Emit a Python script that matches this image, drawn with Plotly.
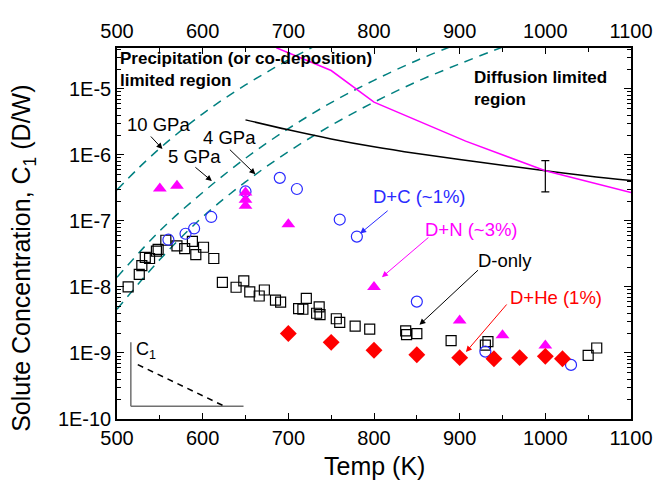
import numpy as np
import plotly.graph_objects as go

# ---------------- data ----------------
# D-only (open black squares)
donly_T = [513, 526, 529, 533, 538, 546, 548, 557, 570, 579, 588, 592, 601, 613, 623, 639, 648, 655, 666, 672,
           685, 691, 712, 717, 721, 733, 736, 737, 756, 760, 778, 795, 837, 838, 850, 890, 930, 933, 1050, 1060]
donly_C = [1.0e-8, 1.55e-8, 2.1e-8, 2.8e-8, 2.7e-8, 3.5e-8, 3.7e-8, 5.1e-8, 4.2e-8, 3.8e-8, 4.9e-8, 3.1e-8, 4.0e-8, 2.7e-8,
           1.17e-8, 9.9e-9, 1.24e-8, 8.4e-9, 7.3e-9, 9.0e-9, 6.3e-9, 5.9e-9, 4.7e-9, 4.6e-9, 6.7e-9, 4.0e-9, 5.0e-9, 3.8e-9,
           3.3e-9, 2.9e-9, 2.55e-9, 2.3e-9, 2.16e-9, 1.9e-9, 1.97e-9, 1.54e-9, 1.32e-9, 1.49e-9, 9.2e-10, 1.19e-9]

# D+C (~1%) open blue circles
dc_T = [560, 580, 590, 610, 650, 690, 710, 760, 780, 850, 930, 1030]
dc_C = [5.2e-8, 6.4e-8, 7.7e-8, 1.15e-7, 2.8e-7, 4.5e-7, 3.05e-7, 1.05e-7, 5.8e-8, 6.0e-9, 1.05e-9, 6.6e-10]

# D+N (~3%) magenta triangles
dn_T = [550, 570, 650, 650, 650, 700, 800, 900, 950, 1000]
dn_C = [3.1e-7, 3.4e-7, 2.7e-7, 2.1e-7, 1.7e-7, 8.9e-8, 1.0e-8, 3.1e-9, 1.86e-9, 1.3e-9]

# D+He (1%) red diamonds
dhe_T = [700, 750, 800, 850, 900, 940, 970, 1000, 1020]
dhe_C = [1.97e-9, 1.45e-9, 1.1e-9, 9.4e-10, 8.5e-10, 8.2e-10, 8.5e-10, 8.9e-10, 8.2e-10]

# Diffusion-limited curves
diffD_T = [650, 700, 750, 800, 850, 900, 950, 1000, 1050, 1100]
diffD_C = [3.4e-6, 2.4e-6, 1.75e-6, 1.33e-6, 1.05e-6, 8.5e-7, 7.0e-7, 5.75e-7, 4.8e-7, 4.1e-7]

diffN_T = [686, 750, 800, 907, 1000, 1100]
diffN_C = [4.2e-5, 1.9e-5, 6.3e-6, 1.62e-6, 5.75e-7, 2.7e-7]

# Precipitation limits (dashed teal)
p10_T = [500, 525, 550, 575, 600, 625, 650, 675, 700, 730]
p10_C = [2.95e-7, 6.3e-7, 1.26e-6, 2.35e-6, 4.2e-6, 7.1e-6, 1.15e-5, 1.8e-5, 2.75e-5, 4.4e-5]
p5_T = [500, 550, 600, 650, 700, 750, 800, 850, 890]
p5_C = [1.4e-8, 7.1e-8, 2.7e-7, 8.9e-7, 2.5e-6, 6.2e-6, 1.35e-5, 2.7e-5, 4.4e-5]
p4_T = [500, 550, 600, 650, 700, 750, 800, 850, 900, 950]
p4_C = [4.6e-9, 2.6e-8, 1.15e-7, 3.9e-7, 1.12e-6, 2.8e-6, 6.3e-6, 1.29e-5, 2.4e-5, 4.3e-5]

# error bar at 1000 K
err_T = [1000]
err_C = [5.75e-7]
err_plus = [2.45e-7]
err_minus = [3.0e-7]

x_ticks = [500, 600, 700, 800, 900, 1000, 1100]
y_ticks = [1e-10, 1e-9, 1e-8, 1e-7, 1e-6, 1e-5]
y_ticktext = ["1E-10", "1E-9", "1E-8", "1E-7", "1E-6", "1E-5"]

# ---------------- figure ----------------
FONT = "Arial, Liberation Sans, sans-serif"
TEAL = "#008080"
MAG = "#ff00ff"
BLUE = "#2a2aff"
RED = "#ff0000"

fig = go.Figure()

dash_style = "9px,7px"
for T, C in [(p10_T, p10_C), (p5_T, p5_C), (p4_T, p4_C)]:
    fig.add_trace(go.Scatter(x=T, y=C, mode="lines", line=dict(color=TEAL, width=1.5, dash=dash_style),
                             line_shape="spline", hoverinfo="skip"))

fig.add_trace(go.Scatter(x=diffD_T, y=diffD_C, mode="lines", line=dict(color="black", width=1.5), line_shape="spline"))
fig.add_trace(go.Scatter(x=diffN_T, y=diffN_C, mode="lines", line=dict(color=MAG, width=1.5)))

fig.add_trace(go.Scatter(x=err_T, y=err_C, mode="markers", marker=dict(size=1, color="rgba(0,0,0,0)"),
                         error_y=dict(type="data", symmetric=False, array=err_plus, arrayminus=err_minus,
                                      color="black", thickness=1.2, width=4)))

fig.add_trace(go.Scatter(x=donly_T, y=donly_C, mode="markers",
                         marker=dict(symbol="square-open", size=10, color="black", line=dict(width=1.2))))
fig.add_trace(go.Scatter(x=dc_T, y=dc_C, mode="markers",
                         marker=dict(symbol="circle-open", size=11, color=BLUE, line=dict(width=1.2))))
fig.add_trace(go.Scatter(x=dn_T, y=dn_C, mode="markers",
                         marker=dict(symbol="triangle-up", size=12, color=MAG)))
fig.add_trace(go.Scatter(x=dhe_T, y=dhe_C, mode="markers",
                         marker=dict(symbol="diamond", size=13, color=RED)))

# invisible trace to activate top axis
fig.add_trace(go.Scatter(x=[x_ticks[0], x_ticks[-1]], y=[y_ticks[0], y_ticks[0]], xaxis="x2", mode="markers",
                         marker=dict(size=1, color="rgba(0,0,0,0)"), hoverinfo="skip"))

# ----- page geometry (the html body adds an 8px margin) -----
OFF = 8
W, H = 665 - OFF, 490 - OFF
L, R, T0, B0 = 117, 637, 37, 419      # plot frame in page pixels (reference)
def px(xp):
    return (xp - L) / (R - L)
def py(yp):
    return (B0 - yp) / (B0 - T0)

ann = []
def text(s, x, y, color="black", size=18.5, bold=False, xanchor="center", yanchor="middle", angle=0):
    ann.append(dict(text=("<b>%s</b>" % s) if bold else s, x=px(x), y=py(y), xref="paper", yref="paper",
                    showarrow=False, xanchor=xanchor, yanchor=yanchor, align="left", textangle=angle,
                    font=dict(family=FONT, size=size, color=color)))

def arrow(hx, hy, tx, ty, color="black"):
    ann.append(dict(text="", x=px(hx), y=py(hy), xref="paper", yref="paper", showarrow=True,
                    ax=tx - hx, ay=ty - hy, arrowhead=2, arrowsize=1.2, arrowwidth=1, arrowcolor=color))

text("Precipitation (or co-deposition)<br>limited region", 118, 36, bold=True, size=17, xanchor="left", yanchor="top")
text("Diffusion limited<br>region", 476, 56, bold=True, size=17, xanchor="left", yanchor="top")

text("10 GPa", 159, 116)
arrow(163, 141, 150, 127)
text("5 GPa", 195, 149)
arrow(213, 174, 195, 159)
text("4 GPa", 231, 129)
arrow(257, 167, 230, 141)

text("D+C (~1%)", 423, 190, color=BLUE)
arrow(363, 228, 392, 204, color=BLUE)
text("D+N (~3%)", 476, 224, color=MAG)
arrow(385, 273, 433, 232, color=MAG)
text("D-only", 510, 256)
arrow(423, 322, 483, 266)
text("D+He (1%)", 561, 294, color=RED)
arrow(470, 350, 512, 301, color=RED)

text("C<sub>1</sub>", 134, 348, size=18, xanchor="left")

# axis titles
text("Solute Concentration, C<sub>1</sub> (D/W)", 22, 254, size=25, angle=-90)
text("Temp (K)", 377, 467, size=25)

shapes = [
    dict(type="line", xref="paper", yref="paper", x0=px(131), x1=px(131), y0=py(340), y1=py(406),
         line=dict(color="#707070", width=1.5)),
    dict(type="line", xref="paper", yref="paper", x0=px(131), x1=px(245), y0=py(406), y1=py(406),
         line=dict(color="#707070", width=1.5)),
    dict(type="line", xref="paper", yref="paper", x0=px(138), x1=px(226), y0=py(363), y1=py(406),
         line=dict(color="black", width=1.5, dash="6px,5px")),
]

axis_common = dict(showgrid=False, zeroline=False, showline=True, linecolor="black", linewidth=1.5,
                   ticks="inside", tickcolor="black", tickwidth=1.2,
                   tickfont=dict(family=FONT, size=20, color="black"))

fig.update_layout(
    width=W, height=H,
    margin=dict(l=L - OFF, r=W - (R - OFF), t=T0 - OFF, b=H - (B0 - OFF)),
    paper_bgcolor="white", plot_bgcolor="white",
    showlegend=False,
    font=dict(family=FONT, color="black"),
    xaxis=dict(range=[500, 1100], tickvals=x_ticks, ticklen=6,
               minor=dict(ticks="inside", dtick=50, ticklen=4, tickcolor="black"),
               **axis_common),
    xaxis2=dict(range=[500, 1100], tickvals=x_ticks, ticklen=6, overlaying="x", side="top",
                minor=dict(ticks="inside", dtick=50, ticklen=4, tickcolor="black"),
                **axis_common),
    yaxis=dict(type="log", range=[-10, -4.38], tickvals=y_ticks, ticktext=y_ticktext, ticklen=7,
               mirror="ticks",
               minor=dict(ticks="inside", dtick="D1", ticklen=4, tickcolor="black"),
               **axis_common),
    annotations=ann,
    shapes=shapes,
)

fig.write_html("out.html")
